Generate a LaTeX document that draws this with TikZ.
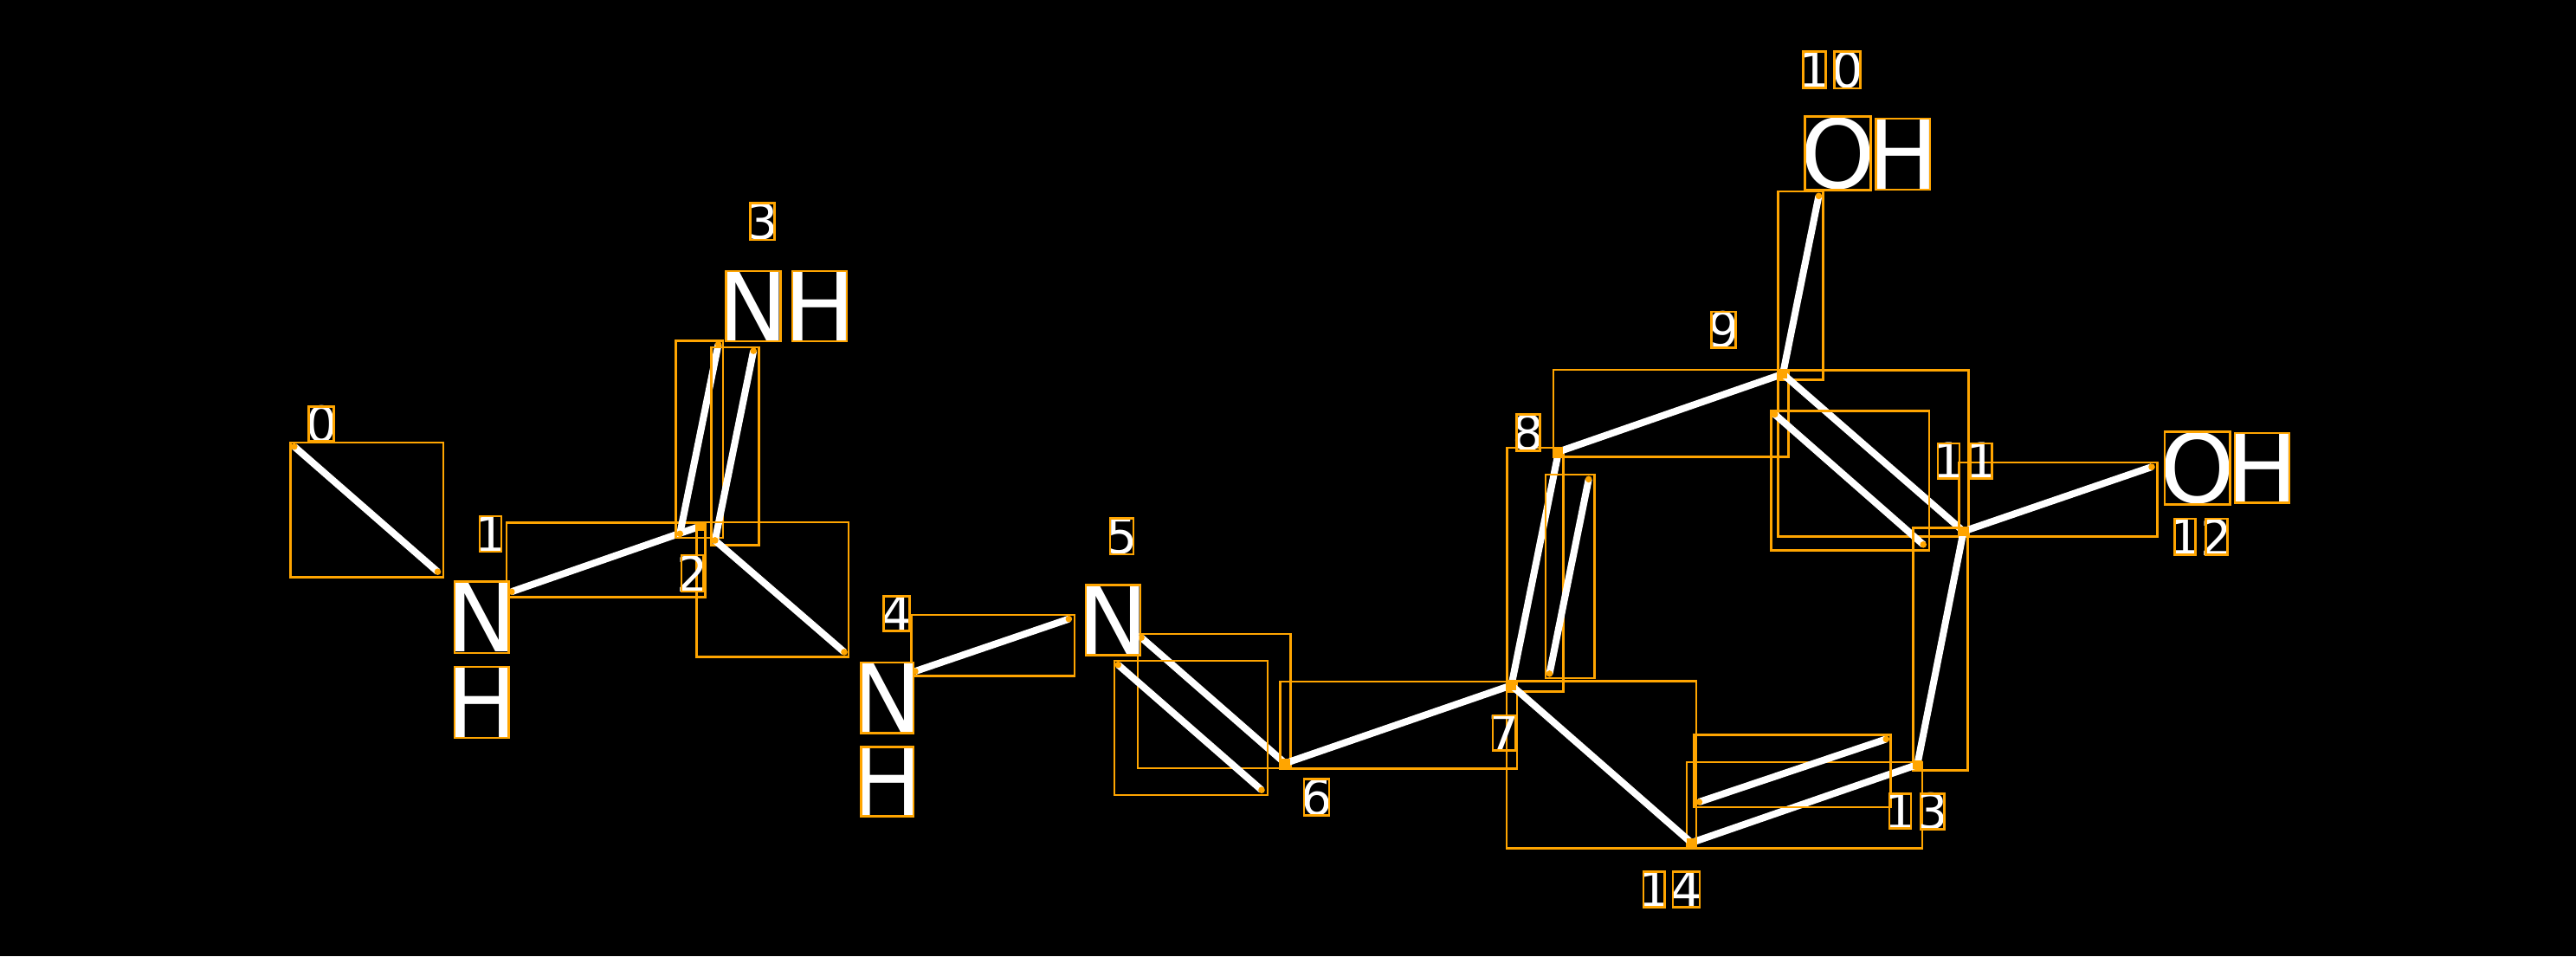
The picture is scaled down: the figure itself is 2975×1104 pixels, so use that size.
\documentclass[tikz,border=0pt]{standalone}
\usepackage{fontspec}
\setmainfont{DejaVu Sans}
\definecolor{boxc}{RGB}{255,165,0}
\tikzset{
  bond/.style={draw=white, line width=4pt},
  bbox/.style={draw=boxc, line width=1.35pt},
  atomlab/.style={text=white, inner sep=0pt, font=\fontsize{55}{60}\selectfont},
  idxlab/.style={text=white, inner sep=0pt, font=\fontsize{28.5}{32}\selectfont},
  enddot/.style={fill=boxc},
}
\newcommand{\gl}[7]{\node[#7] (#1) at ({(#2+#4)/2},{(#3+#5)/2}) {#6};\draw[bbox] (#2,#3) rectangle (#4,#5);}
\newcommand{\bnd}[9]{%
  \coordinate (#1s) at (#2,#3); \coordinate (#1e) at (#4,#5);
  \draw[bond] (#1s) -- (#1e);
  \draw[bbox] (#6,#7) rectangle (#8,#9);
  \fill[enddot] (#1s) circle (3.8) (#1e) circle (3.8);}
\begin{document}
\begin{tikzpicture}[x=0.5pt,y=-0.5pt]
\fill[black] (0,0) rectangle (2975,1104);
\useasboundingbox (0,0) rectangle (2975,1104);
% bonds
\bnd{b01}{339.8}{515.6}{505.5}{660.2}{335.2}{511}{512}{666.3}
\bnd{b12}{590.8}{683.2}{808.2}{607.8}{585.1}{603.2}{814.7}{689.7}
\bnd{b23a}{785.2}{616.3}{829.6}{397.5}{780.6}{393.2}{835}{620.9}
\bnd{b23b}{825.8}{624}{870.2}{405.1}{821.2}{400.9}{876.3}{629.3}
\bnd{b24}{825.8}{624}{975}{752.9}{804.3}{602.9}{980}{758.7}
\bnd{b45}{1056.9}{775.1}{1234.4}{714.7}{1052.7}{710.1}{1241}{780.5}
\bnd{b56a}{1318.1}{736.2}{1484.2}{881.3}{1313.9}{732}{1490.7}{887}
\bnd{b56b}{1291.3}{767.6}{1457}{912.2}{1287.1}{763}{1463.9}{918}
\bnd{b67}{1484.2}{881.3}{1745.5}{791.3}{1478.8}{787.1}{1752}{887.7}
\bnd{b78a}{1745.5}{791.3}{1799.9}{521.6}{1740.2}{517}{1805.2}{798.5}
\bnd{b78b}{1789.5}{777.9}{1834.7}{553.3}{1785}{548}{1841.2}{782.9}
\bnd{b89}{1799.9}{521.6}{2059}{431.8}{1794.1}{426.9}{2065.7}{527.5}
\bnd{b910}{2059}{431.8}{2100.4}{226.3}{2053.7}{221}{2105.7}{438.7}
\bnd{b911a}{2059}{431.8}{2267.6}{613.5}{2053.7}{427.2}{2273.3}{619.3}
\bnd{b911b}{2049.7}{478.4}{2221.2}{628.8}{2045.2}{474.6}{2228.1}{635.7}
\bnd{b1112}{2267.6}{613.5}{2485}{539.1}{2262.7}{534.1}{2491.6}{619.4}
\bnd{b1113}{2267.6}{613.5}{2214.3}{882.9}{2209.3}{609.3}{2272.8}{889.8}
\bnd{b1314a}{2214.3}{882.9}{1953.3}{973}{1948}{880}{2220}{979.3}
\bnd{b1314b}{2178.3}{853.4}{1962.3}{926}{1956.7}{848.3}{2183.7}{932}
\bnd{b147}{1745.5}{791.3}{1953.3}{973}{1740}{786.7}{1959}{979.3}
% small atom markers
\foreach \p in {(808.2,607.8),(1484.2,881.3),(1745.5,791.3),(1799.9,521.6),(2059,431.8),(2267.6,613.5),(2214.3,882.9),(1953.3,973)}
  \draw[bbox] \p ++(-4,-4) rectangle ++(8,8);
% atom labels
\gl{n1}{525}{671.7}{587.8}{754}{N}{atomlab}
\gl{h1}{525}{770}{587.8}{852}{H}{atomlab}
\gl{n3}{838.8}{312.9}{901.2}{394}{N}{atomlab}
\gl{h3}{914.9}{312.9}{978.1}{394}{H}{atomlab}
\gl{n4}{994.8}{765}{1055}{846.3}{N}{atomlab}
\gl{h4}{994.8}{862.3}{1055}{942.7}{H}{atomlab}
\gl{n5}{1254}{675.2}{1317}{756.5}{N}{atomlab}
\gl{o10}{2084.7}{134.8}{2160.8}{219.8}{O}{atomlab}
\gl{h10}{2166.2}{137.1}{2229}{219}{H}{atomlab}
\gl{o12}{2500}{498.2}{2575.8}{582.8}{O}{atomlab}
\gl{h12}{2581}{500}{2644}{580.7}{H}{atomlab}
% index labels
\gl{i0}{356.6}{469.3}{385.7}{509.8}{0}{idxlab}
\gl{i1}{554.1}{595.9}{579}{636.9}{1}{idxlab}
\gl{i2}{787.1}{641}{812}{682.9}{2}{idxlab}
\gl{i3}{866.7}{234.8}{894.3}{276.9}{3}{idxlab}
\gl{i4}{1020.2}{688.3}{1050.4}{728.8}{4}{idxlab}
\gl{i5}{1281.9}{598.8}{1309}{640}{5}{idxlab}
\gl{i6}{1506}{899.6}{1535.1}{941.7}{6}{idxlab}
\gl{i7}{1724}{826}{1750}{866.5}{7}{idxlab}
\gl{i8}{1751.3}{478.7}{1778.8}{520.8}{8}{idxlab}
\gl{i9}{1976.8}{359.9}{2004.7}{401.6}{9}{idxlab}
\gl{i10a}{2082.8}{59.8}{2108.8}{101.2}{1}{idxlab}
\gl{i10b}{2118.8}{59.8}{2148.2}{101.9}{0}{idxlab}
\gl{i11a}{2238}{512.1}{2263}{552.3}{1}{idxlab}
\gl{i11b}{2276}{512.1}{2300.8}{552.3}{1}{idxlab}
\gl{i12a}{2511.2}{599}{2535.7}{640.7}{1}{idxlab}
\gl{i12b}{2547.2}{599}{2572.8}{640.7}{2}{idxlab}
\gl{i13a}{2182.1}{916.6}{2207}{956.8}{1}{idxlab}
\gl{i13b}{2218.1}{916.6}{2245.7}{957.5}{3}{idxlab}
\gl{i14a}{1898}{1006.7}{1922.7}{1047.7}{1}{idxlab}
\gl{i14b}{1932}{1006.7}{1963}{1047.7}{4}{idxlab}
\end{tikzpicture}
\end{document}
